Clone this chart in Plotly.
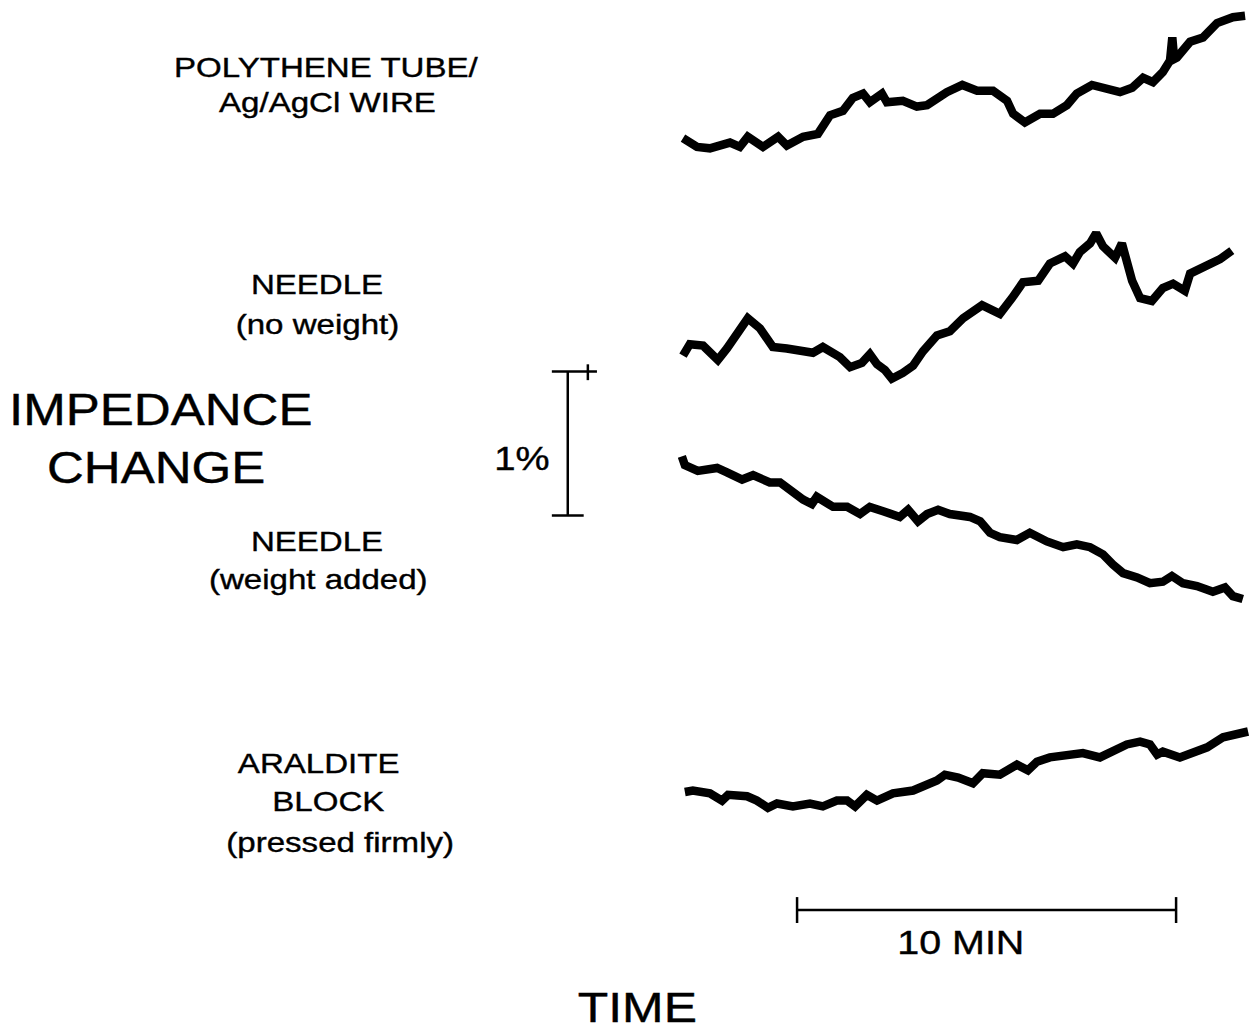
import plotly.graph_objects as go

# ---------------- data (time in minutes, impedance change in %) ----------------
t_tube = [0.08, 0.45, 0.79, 1.32, 1.58, 1.79, 2.19, 2.59, 2.82, 3.25, 3.64, 3.77, 3.96, 4.30,
          4.56, 4.83, 5.01, 5.33, 5.46, 5.88, 6.25, 6.52, 6.78, 7.04, 7.45, 7.84, 8.26, 8.63,
          8.79, 9.10, 9.50, 9.84, 10.21, 10.47, 10.87, 11.27, 11.61, 11.93, 12.22, 12.48,
          12.74, 12.93, 12.99, 13.04, 13.11, 13.46, 13.80, 14.17, 14.59, 14.91]
v_tube = [0.00, -0.06, -0.07, -0.03, -0.06, 0.01, -0.06, 0.01, -0.05, 0.01, 0.03, 0.09, 0.16, 0.19,
          0.28, 0.31, 0.25, 0.31, 0.25, 0.26, 0.22, 0.23, 0.28, 0.32, 0.37, 0.33, 0.33, 0.26,
          0.17, 0.11, 0.17, 0.17, 0.23, 0.31, 0.37, 0.35, 0.32, 0.35, 0.42, 0.39,
          0.46, 0.54, 0.70, 0.55, 0.56, 0.67, 0.70, 0.80, 0.84, 0.85]

t_needle = [0.08, 0.26, 0.61, 0.79, 1.00, 1.24, 1.53, 1.79, 2.11, 2.45, 2.82, 3.25, 3.51, 3.77,
            4.22, 4.49, 4.80, 5.01, 5.20, 5.41, 5.59, 5.88, 6.15, 6.41, 6.78, 7.12, 7.47, 7.97,
            8.44, 8.76, 9.05, 9.45, 9.76, 10.16, 10.37, 10.55, 10.82, 10.98, 11.16, 11.48,
            11.66, 11.93, 12.14, 12.45, 12.74, 13.01, 13.32, 13.46, 13.91, 14.25, 14.56]
v_needle = [0.00, 0.08, 0.07, 0.03, -0.03, 0.05, 0.17, 0.26, 0.19, 0.06, 0.05, 0.03, 0.02, 0.06,
            -0.01, -0.08, -0.05, 0.01, -0.06, -0.10, -0.16, -0.12, -0.07, 0.03, 0.14, 0.17, 0.26, 0.35,
            0.29, 0.40, 0.51, 0.52, 0.64, 0.69, 0.64, 0.72, 0.78, 0.85, 0.76, 0.68,
            0.78, 0.52, 0.40, 0.38, 0.47, 0.50, 0.45, 0.57, 0.63, 0.67, 0.73]

t_weight = [0.05, 0.13, 0.47, 0.98, 1.24, 1.64, 1.93, 2.37, 2.64, 2.98, 3.25, 3.48, 3.61, 4.04,
            4.41, 4.75, 5.01, 5.36, 5.80, 6.02, 6.28, 6.52, 6.81, 7.12, 7.65, 7.92, 8.18, 8.44,
            8.89, 9.23, 9.68, 10.11, 10.47, 10.82, 11.16, 11.42, 11.69, 12.06, 12.40, 12.74,
            12.98, 13.27, 13.64, 14.06, 14.38, 14.59, 14.85]
v_weight = [0.00, -0.06, -0.10, -0.08, -0.11, -0.16, -0.13, -0.18, -0.18, -0.25, -0.30, -0.33, -0.28, -0.35,
            -0.35, -0.40, -0.35, -0.38, -0.42, -0.37, -0.45, -0.40, -0.37, -0.40, -0.42, -0.45, -0.53, -0.56,
            -0.58, -0.53, -0.59, -0.63, -0.61, -0.63, -0.68, -0.75, -0.81, -0.84, -0.88, -0.87,
            -0.83, -0.88, -0.90, -0.94, -0.91, -0.97, -0.99]

t_block = [0.13, 0.34, 0.79, 1.11, 1.27, 1.77, 2.03, 2.32, 2.56, 2.98, 3.43, 3.77, 4.14, 4.41,
           4.62, 4.93, 5.20, 5.62, 6.15, 6.52, 6.78, 6.99, 7.34, 7.73, 7.99, 8.44, 8.89, 9.18,
           9.42, 9.76, 10.21, 10.63, 11.08, 11.42, 11.79, 12.14, 12.40, 12.59, 12.74, 13.19,
           13.54, 13.91, 14.33, 14.70, 14.99]
v_block = [0.00, 0.01, -0.01, -0.06, -0.02, -0.03, -0.06, -0.11, -0.08, -0.10, -0.08, -0.10, -0.06, -0.06,
           -0.10, -0.02, -0.06, -0.01, 0.01, 0.05, 0.08, 0.12, 0.10, 0.06, 0.13, 0.12, 0.19, 0.15,
           0.21, 0.24, 0.26, 0.27, 0.24, 0.29, 0.33, 0.35, 0.33, 0.26, 0.28, 0.24,
           0.28, 0.31, 0.38, 0.40, 0.42]

# vertical placement of each record on the shared % scale
offset_tube, offset_needle, offset_weight, offset_block = 6.20, 4.69, 3.99, 1.66

# calibration bars
SCALE_PCT = 1.0     # %
SCALE_MIN = 10.0    # minutes

# ---------------- figure ----------------
fig = go.Figure()
line = dict(color="#000000", width=8.5)
for t, v, off in [(t_tube, v_tube, offset_tube), (t_needle, v_needle, offset_needle),
                  (t_weight, v_weight, offset_weight), (t_block, v_block, offset_block)]:
    fig.add_trace(go.Scatter(x=t, y=[off + d for d in v], mode="lines", line=line,
                             hoverinfo="skip", showlegend=False))

bar = dict(color="#000", width=2.5)
# vertical 1 % bar
vx, vy0 = -2.96, 3.58
cap = 0.42
fig.add_trace(go.Scatter(x=[vx, vx, None, vx - cap, vx + cap, None, vx - cap, vx + 0.77, None, vx + 0.53, vx + 0.53],
                         y=[vy0, vy0 + SCALE_PCT, None, vy0, vy0, None, vy0 + SCALE_PCT, vy0 + SCALE_PCT, None,
                            vy0 + SCALE_PCT + 0.05, vy0 + SCALE_PCT - 0.06],
                         mode="lines", line=bar, hoverinfo="skip", showlegend=False))
# horizontal 10 min bar
hx0, hy = 3.09, 0.84
tick = 0.09
fig.add_trace(go.Scatter(x=[hx0, hx0 + SCALE_MIN, None, hx0, hx0, None, hx0 + SCALE_MIN, hx0 + SCALE_MIN],
                         y=[hy, hy, None, hy - tick, hy + tick, None, hy - tick, hy + tick],
                         mode="lines", line=bar, hoverinfo="skip", showlegend=False))

W, H = 1250, 1031
FONT = "Liberation Sans, Arial, Helvetica, sans-serif"
labels = [
    ("POLYTHENE TUBE/", 326, 67, 28.5),
    ("Ag/AgCl WIRE", 327, 102, 28.5),
    ("NEEDLE", 317, 284, 28.5),
    ("(no weight)", 317, 324, 28.5),
    ("IMPEDANCE", 161, 410, 44),
    ("CHANGE", 156, 468, 44),
    ("1%", 522, 458, 33),
    ("NEEDLE", 317, 541, 28.5),
    ("(weight added)", 318, 579, 28.5),
    ("ARALDITE", 318, 763, 28.5),
    ("BLOCK", 328, 801, 28.5),
    ("(pressed firmly)", 340, 842, 28.5),
    ("10 MIN", 961, 942, 34),
    ("TIME", 637, 1007, 43),
]
for txt, px, py, fs in labels:
    fig.add_annotation(text=txt, x=px / W, y=1 - py / H, xref="paper", yref="paper",
                       xanchor="center", yanchor="middle", showarrow=False,
                       font=dict(family=FONT, size=fs, color="#000"))

fig.update_layout(
    width=W, height=H, margin=dict(l=0, r=0, t=0, b=0),
    paper_bgcolor="white", plot_bgcolor="white",
    xaxis=dict(range=[-17.94, 15.04], visible=False, fixedrange=True),
    yaxis=dict(range=[0, 7.16], visible=False, fixedrange=True),
)

post = """
var gd = document.getElementById('{plot_id}');
function stretchText(){
  gd.querySelectorAll('.annotation-text').forEach(function(t){
    t.style.transformBox = 'fill-box';
    t.style.transformOrigin = 'center';
    t.style.transform = 'scaleX(1.16)';
    t.style.stroke = '#000';
    t.style.strokeWidth = '0.4px';
  });
}
stretchText();
if (gd.on) { gd.on('plotly_afterplot', stretchText); }
"""
fig.write_html("out.html", post_script=post, config={"displayModeBar": False})
